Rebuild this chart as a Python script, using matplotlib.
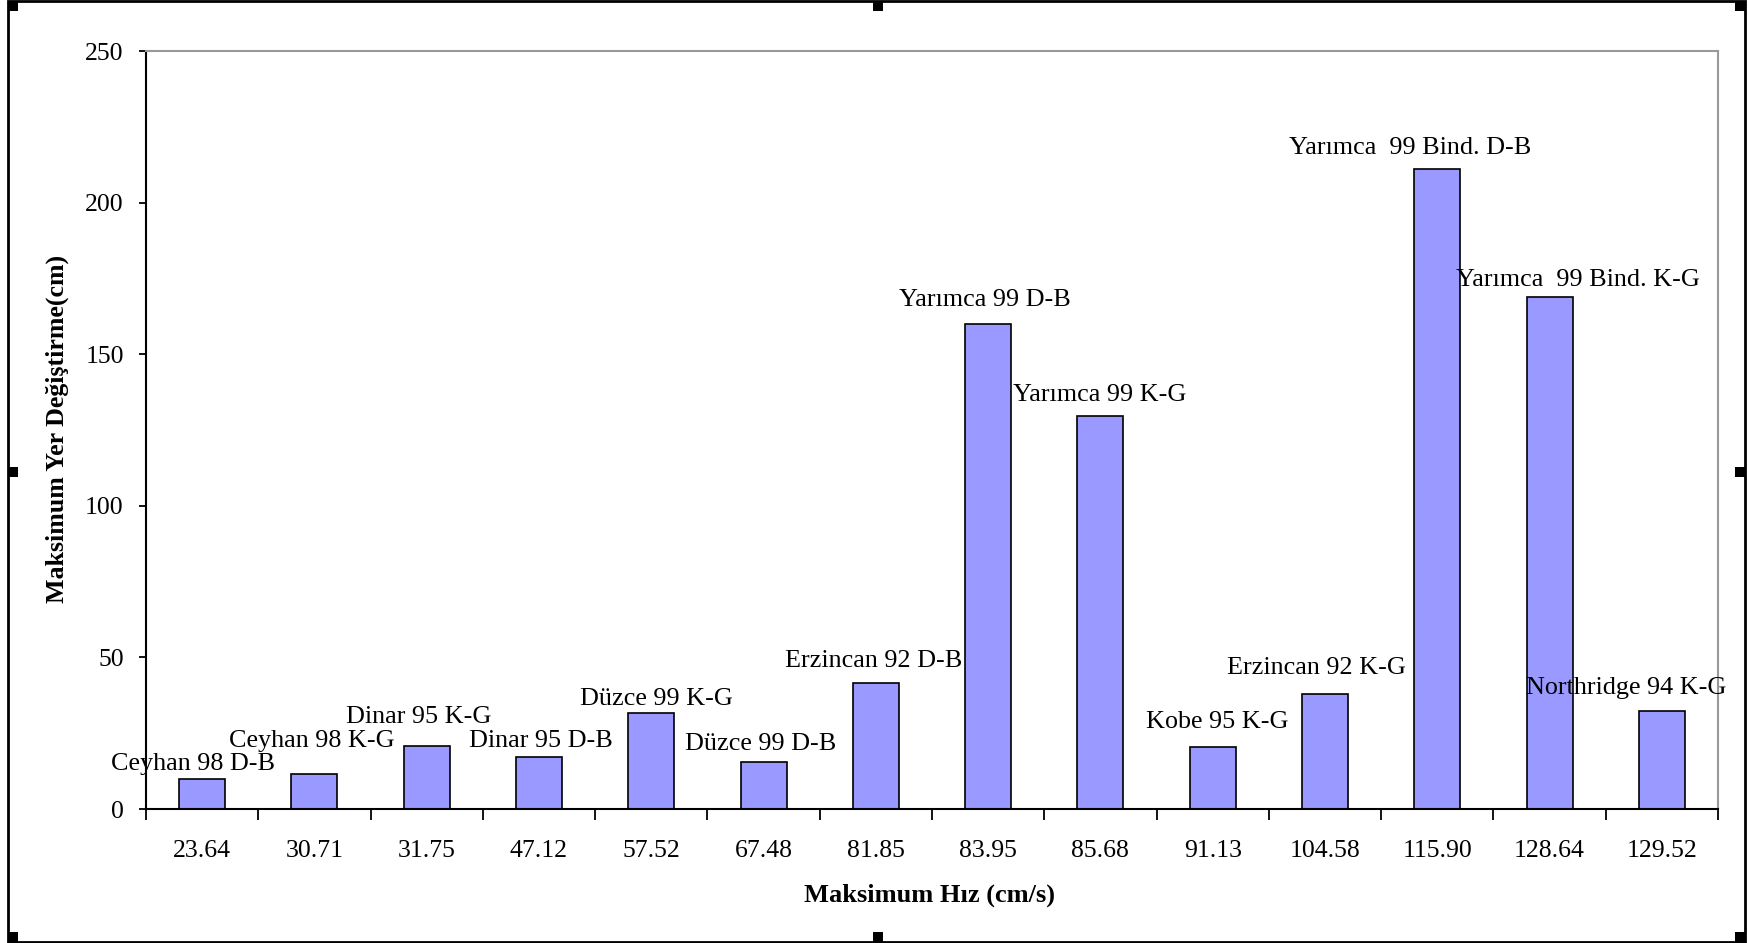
import matplotlib.pyplot as plt
from matplotlib.patches import Rectangle

plt.rcParams["font.family"] = ["Liberation Serif", "DejaVu Serif"]

# peak velocity (cm/s) used as category labels
velocities = ["23.64", "30.71", "31.75", "47.12", "57.52", "67.48", "81.85",
              "83.95", "85.68", "91.13", "104.58", "115.90", "128.64", "129.52"]
# peak displacement (cm)
displacements = [9.9, 11.4, 20.9, 17.3, 31.6, 15.4, 41.5,
                 160.1, 129.6, 20.6, 37.8, 211.1, 168.9, 32.3]
records = ["Ceyhan 98 D-B", "Ceyhan 98 K-G", "Dinar 95 K-G", "Dinar 95 D-B",
           "Düzce 99 K-G", "Düzce 99 D-B", "Erzincan 92 D-B", "Yarımca 99 D-B",
           "Yarımca 99 K-G", "Kobe 95 K-G", "Erzincan 92 K-G",
           "Yarımca  99 Bind. D-B", "Yarımca  99 Bind. K-G", "Northridge 94 K-G"]

# label placement relative to bar top (category units, data units)
label_dx = [-0.08, -0.02, -0.07, 0.02, 0.05, -0.03, -0.02,
            -0.03, -0.01, 0.04, -0.08, -0.24, 0.25, -0.32]
label_dy = [4.8, 11.0, 9.6, 5.1, 4.7, 5.9, 7.3,
            7.7, 7.0, 8.0, 8.8, 6.9, 5.5, 7.7]

W, H = 1749, 943
fig = plt.figure(figsize=(W / 100, H / 100), dpi=100)
ax = fig.add_axes([146 / W, (H - 809) / H, (1718 - 146) / W, (809 - 51) / H])

x = list(range(len(velocities)))
ax.bar(x, displacements, width=0.41, color="#9999ff", edgecolor="black",
       linewidth=1.2, zorder=2)

for i, (v, name) in enumerate(zip(displacements, records)):
    ax.text(i + label_dx[i], v + label_dy[i], name, ha="center", va="center",
            fontsize=18.8, zorder=3)

ax.set_xlim(-0.5, len(velocities) - 0.5)
ax.set_ylim(0, 250)
ax.set_yticks([0, 50, 100, 150, 200, 250])

# ticks at category boundaries, labels at centres
ax.set_xticks([i - 0.5 for i in range(len(velocities) + 1)])
ax.set_xticklabels([])
ax.set_xticks(x, minor=True)
ax.set_xticklabels(velocities, minor=True)
ax.tick_params(axis="x", which="major", direction="out", length=8, width=1.3)
ax.tick_params(axis="x", which="minor", length=0, pad=22, labelsize=18.5)
ax.tick_params(axis="y", direction="out", length=5, width=1.3, pad=11,
               labelsize=18.5)

for s in ("left", "bottom"):
    ax.spines[s].set_color("black")
    ax.spines[s].set_linewidth(1.5)
for s in ("top", "right"):
    ax.spines[s].set_color("#999999")
    ax.spines[s].set_linewidth(1.5)

fig.text(57 / W, 1 - 429 / H, "Maksimum Yer Değiştirme(cm)", rotation=90,
         ha="center", va="center", fontsize=18.6, fontweight="bold")
fig.text(930 / W, 1 - 895 / H, "Maksimum Hız (cm/s)", ha="center",
         va="center", fontsize=19, fontweight="bold")

# outer frame with selection handles
fig.add_artist(Rectangle((8 / W, 1 / H), (1745 - 8) / W, (942 - 1) / H,
                         transform=fig.transFigure, fill=False,
                         edgecolor="black", linewidth=2))
for hx, hy in [(8, 1), (873, 1), (1735, 1), (8, 467), (1735, 467),
               (8, 932), (873, 932), (1735, 932)]:
    fig.add_artist(Rectangle((hx / W, 1 - (hy + 10) / H), 10 / W, 10 / H,
                             transform=fig.transFigure, facecolor="black",
                             edgecolor="none"))

fig.savefig("out.png", dpi=100)
